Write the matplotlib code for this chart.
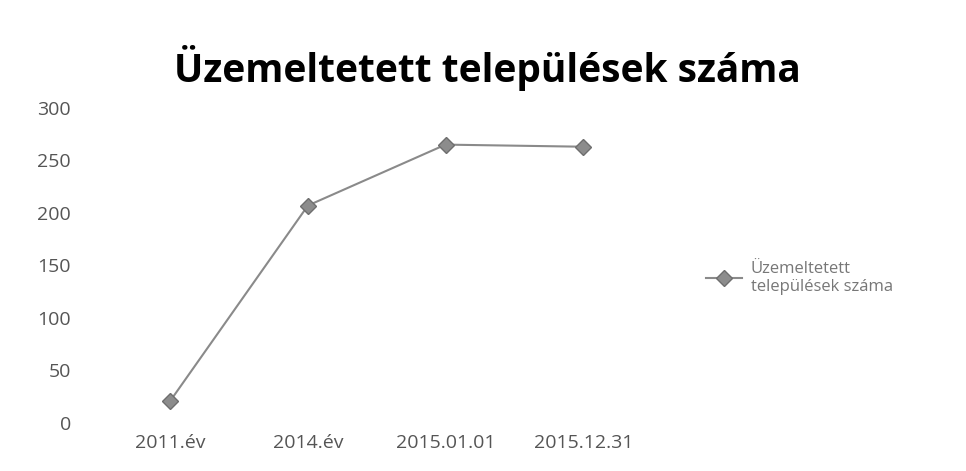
import matplotlib.pyplot as plt

categories = ["2011.év", "2014.év", "2015.01.01", "2015.12.31"]
values = [21, 207, 265, 263]
series_name = "Üzemeltetett\ntelepülések száma"
yticks = [0, 50, 100, 150, 200, 250, 300]

plt.rcParams['font.family'] = ['Open Sans', 'DejaVu Sans']

fig = plt.figure(figsize=(9.66, 4.71), dpi=100)
ax = fig.add_axes([0.105, 0.102, 0.57, 0.669])

x = range(len(categories))
ax.plot(x, values, color="#8a8a8a", linewidth=1.5, marker="D", markersize=8,
        markerfacecolor="#8c8c8c", markeredgecolor="#6e6e6e", label=series_name)

ax.set_xlim(-0.5, len(categories) - 0.5)
ax.set_ylim(0, 300)
ax.set_yticks(yticks)
ax.set_xticks(list(x))
ax.set_xticklabels(categories)
for s in ax.spines.values():
    s.set_visible(False)
ax.tick_params(length=0, colors="#555555", labelsize=14, pad=8)
ax.tick_params(axis="y", pad=22)

fig.text(0.505, 0.855, "Üzemeltetett települések száma", ha="center", va="center",
         fontsize=28, fontweight="bold", color="black")

fig.legend(loc="center left", bbox_to_anchor=(0.715, 0.41), frameon=False,
           fontsize=12, labelcolor="#777777", handlelength=2.2, handletextpad=0.5)

fig.savefig("out.png", dpi=100)
